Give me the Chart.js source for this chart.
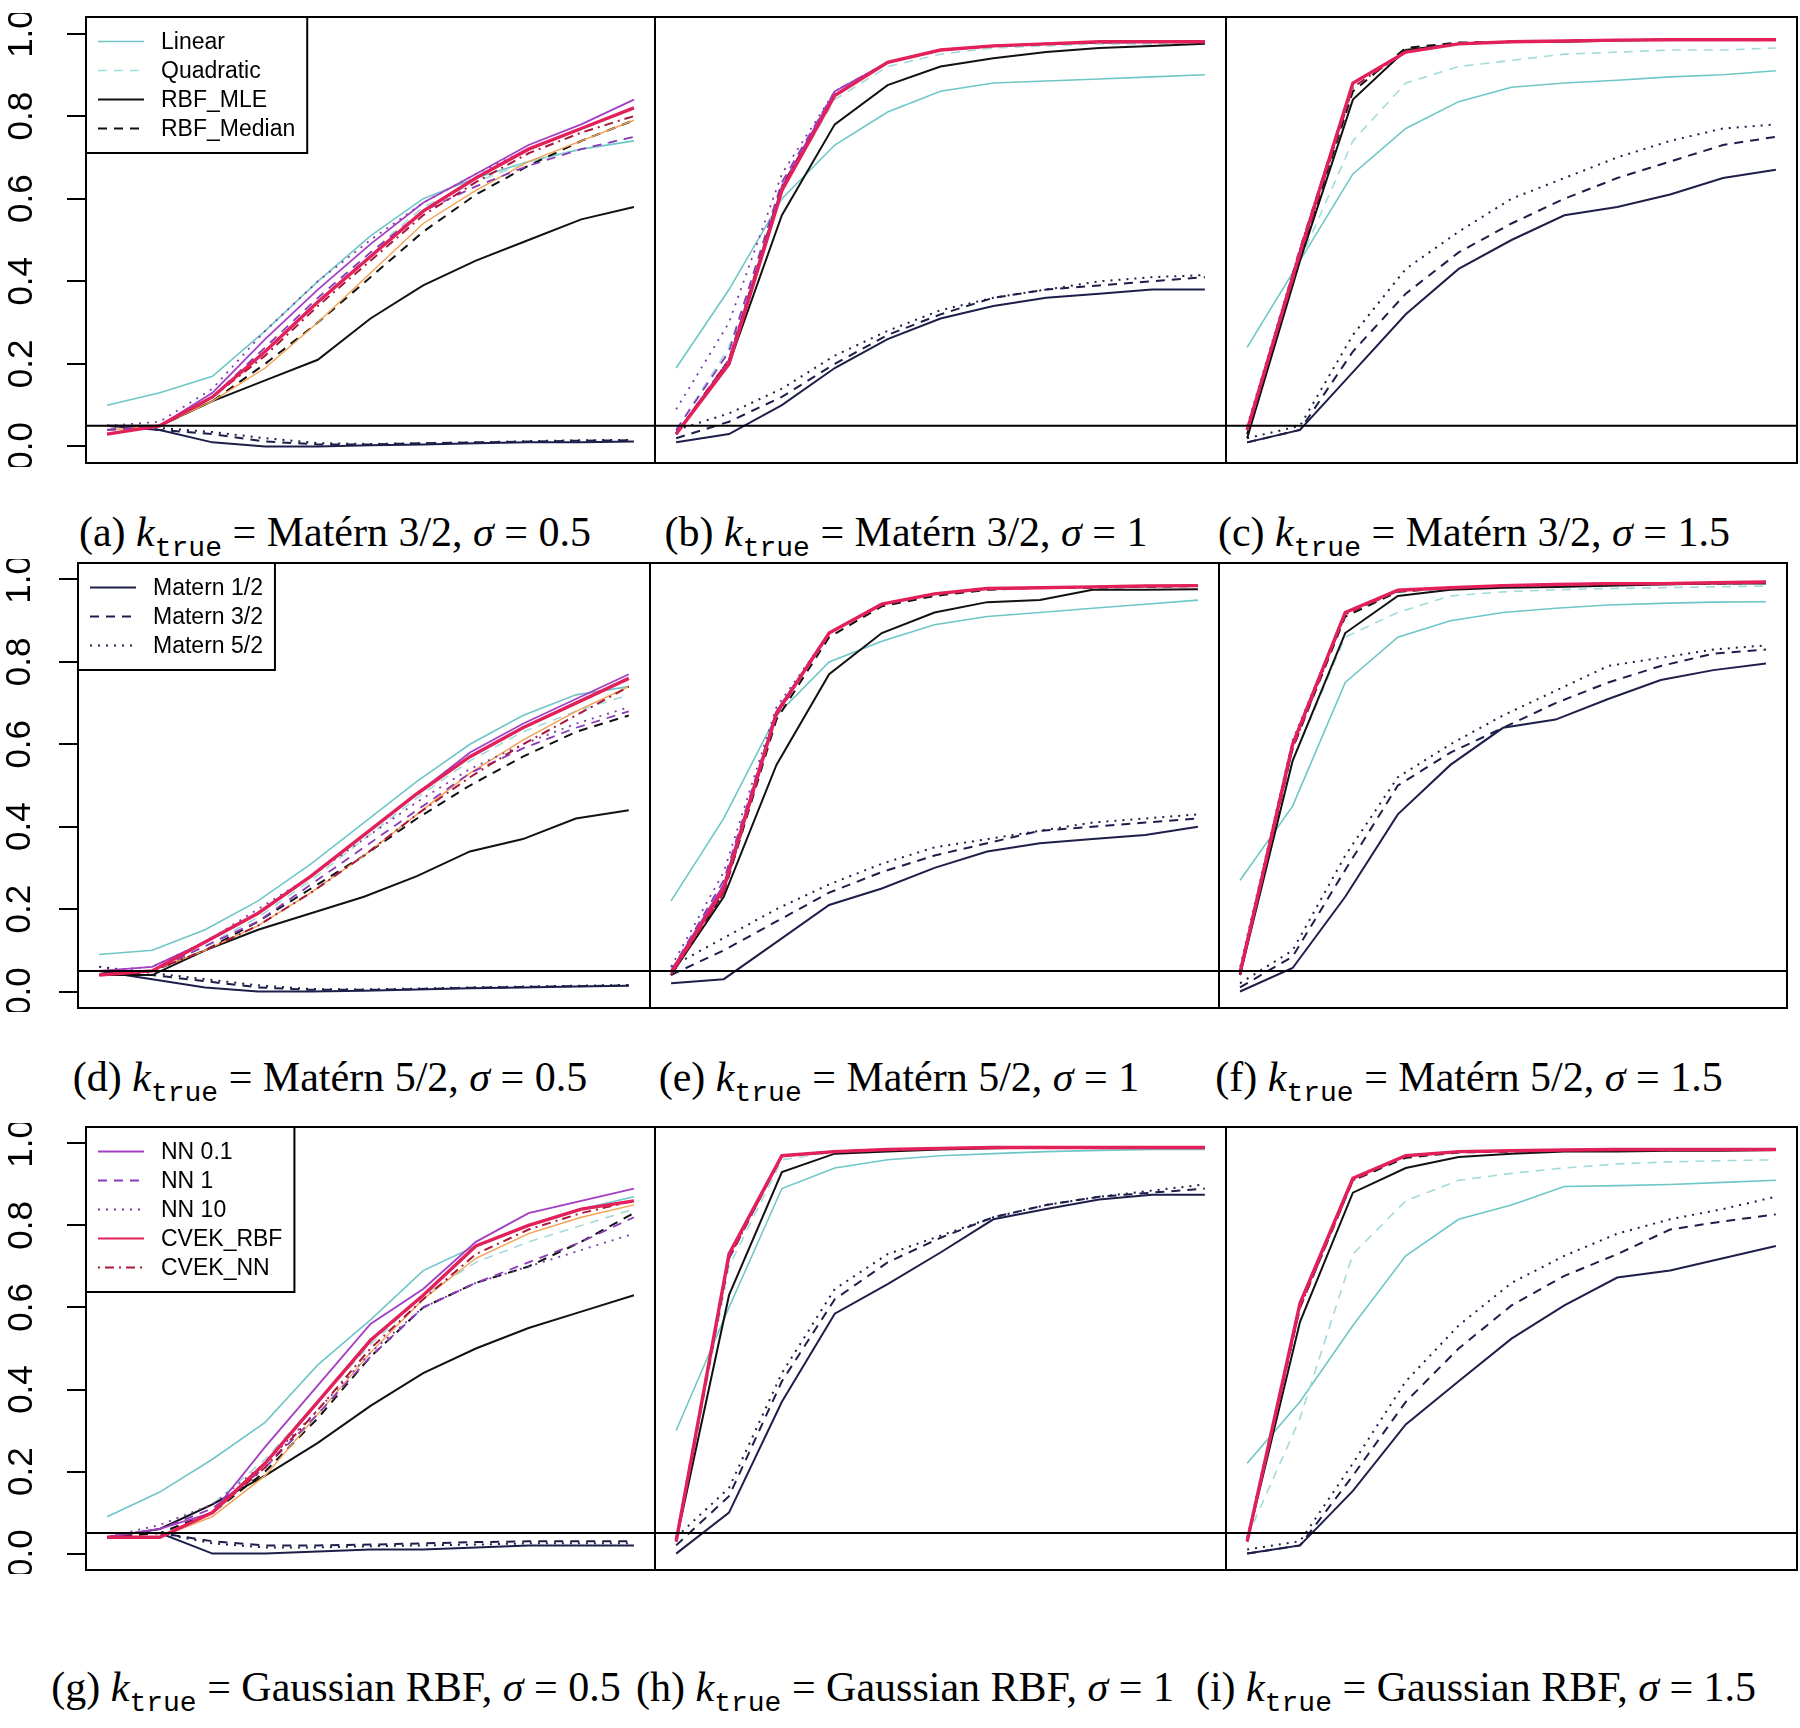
<!DOCTYPE html>
<html>
<head>
<meta charset="utf-8">
<script src="https://cdn.jsdelivr.net/npm/chart.js@4.4.0/dist/chart.umd.min.js"></script>
<style>
  body { margin: 0; background: #fff; width: 1800px; height: 1728px; position: relative; overflow: hidden; }
  canvas { position: absolute; }
  .cap { position: absolute; font-family: "Liberation Serif", serif; font-size: 42px; white-space: nowrap;
         transform: translate(-50%, -50%); color: #000; }
  .cap sub { font-family: "Liberation Mono", monospace; font-size: 28px; font-style: normal; vertical-align: -0.35em; }
</style>
</head>
<body>
<script>
// x positions (11 settings per panel) and y axis ticks
const xValues = [0, 1, 2, 3, 4, 5, 6, 7, 8, 9, 10];
const yTicks = [0.0, 0.2, 0.4, 0.6, 0.8, 1.0];
const alphaLevel = 0.05;

// panel (a) Matern 3/2, sigma 0.5
const a_linear  = [0.10, 0.13, 0.17, 0.28, 0.40, 0.51, 0.60, 0.65, 0.69, 0.72, 0.74];
const a_quad    = [0.05, 0.05, 0.12, 0.23, 0.35, 0.47, 0.58, 0.64, 0.69, 0.72, 0.75];
const a_rbfMle  = [0.05, 0.05, 0.11, 0.16, 0.21, 0.31, 0.39, 0.45, 0.50, 0.55, 0.58];
const a_rbfMed  = [0.04, 0.05, 0.11, 0.20, 0.30, 0.41, 0.52, 0.61, 0.68, 0.74, 0.79];
const a_mat12   = [0.05, 0.04, 0.01, 0.00, 0.00, 0.003, 0.005, 0.008, 0.010, 0.010, 0.012];
const a_mat32   = [0.05, 0.04, 0.03, 0.012, 0.005, 0.005, 0.008, 0.010, 0.012, 0.014, 0.015];
const a_mat52   = [0.05, 0.045, 0.035, 0.02, 0.008, 0.006, 0.008, 0.010, 0.013, 0.015, 0.016];
const a_nn01    = [0.05, 0.05, 0.13, 0.26, 0.38, 0.49, 0.59, 0.66, 0.73, 0.78, 0.84];
const a_nn1     = [0.04, 0.05, 0.12, 0.24, 0.36, 0.47, 0.57, 0.63, 0.68, 0.72, 0.75];
const a_nn10    = [0.05, 0.06, 0.14, 0.28, 0.40, 0.50, 0.59, 0.66, 0.72, 0.77, 0.82];
const a_cvekRbf = [0.03, 0.05, 0.12, 0.23, 0.35, 0.46, 0.57, 0.65, 0.72, 0.77, 0.82];
const a_cvekNn  = [0.03, 0.05, 0.12, 0.22, 0.34, 0.45, 0.56, 0.64, 0.71, 0.76, 0.80];
const a_other   = [0.04, 0.05, 0.11, 0.19, 0.30, 0.42, 0.54, 0.62, 0.69, 0.74, 0.79];

// panel (b) Matern 3/2, sigma 1
const b_linear  = [0.19, 0.38, 0.60, 0.73, 0.81, 0.86, 0.88, 0.885, 0.89, 0.895, 0.90];
const b_quad    = [0.04, 0.24, 0.62, 0.84, 0.92, 0.95, 0.965, 0.97, 0.975, 0.975, 0.975];
const b_rbfMle  = [0.03, 0.20, 0.56, 0.78, 0.875, 0.92, 0.94, 0.955, 0.965, 0.97, 0.975];
const b_rbfMed  = [0.03, 0.21, 0.62, 0.85, 0.93, 0.96, 0.97, 0.975, 0.978, 0.98, 0.98];
const b_mat12   = [0.01, 0.03, 0.10, 0.19, 0.26, 0.31, 0.34, 0.36, 0.37, 0.38, 0.38];
const b_mat32   = [0.02, 0.06, 0.12, 0.20, 0.27, 0.32, 0.36, 0.38, 0.39, 0.40, 0.41];
const b_mat52   = [0.04, 0.08, 0.14, 0.22, 0.28, 0.33, 0.36, 0.38, 0.40, 0.41, 0.415];
const b_nn01    = [0.03, 0.21, 0.63, 0.86, 0.93, 0.96, 0.97, 0.975, 0.98, 0.98, 0.98];
const b_nn1     = [0.04, 0.23, 0.64, 0.86, 0.93, 0.96, 0.97, 0.975, 0.98, 0.98, 0.98];
const b_nn10    = [0.09, 0.30, 0.66, 0.86, 0.93, 0.96, 0.97, 0.975, 0.98, 0.98, 0.98];
const b_cvekRbf = [0.03, 0.20, 0.62, 0.85, 0.93, 0.96, 0.97, 0.975, 0.98, 0.98, 0.98];
const b_cvekNn  = [0.03, 0.21, 0.63, 0.85, 0.93, 0.96, 0.97, 0.975, 0.98, 0.98, 0.98];

// panel (c) Matern 3/2, sigma 1.5
const c_linear  = [0.24, 0.45, 0.66, 0.77, 0.835, 0.87, 0.88, 0.887, 0.895, 0.90, 0.91];
const c_quad    = [0.04, 0.45, 0.74, 0.88, 0.92, 0.935, 0.95, 0.955, 0.96, 0.96, 0.965];
const c_rbfMle  = [0.02, 0.45, 0.84, 0.96, 0.975, 0.98, 0.98, 0.983, 0.985, 0.985, 0.985];
const c_rbfMed  = [0.03, 0.46, 0.86, 0.965, 0.978, 0.98, 0.982, 0.984, 0.985, 0.985, 0.985];
const c_mat12   = [0.01, 0.04, 0.18, 0.32, 0.43, 0.50, 0.56, 0.58, 0.61, 0.65, 0.67];
const c_mat32   = [0.01, 0.04, 0.23, 0.37, 0.47, 0.54, 0.60, 0.65, 0.69, 0.73, 0.75];
const c_mat52   = [0.02, 0.05, 0.27, 0.43, 0.52, 0.60, 0.65, 0.70, 0.74, 0.77, 0.78];
const c_nn01    = [0.04, 0.47, 0.88, 0.955, 0.975, 0.98, 0.982, 0.984, 0.985, 0.985, 0.985];
const c_nn1     = [0.04, 0.48, 0.88, 0.955, 0.975, 0.98, 0.982, 0.984, 0.985, 0.985, 0.985];
const c_nn10    = [0.05, 0.48, 0.88, 0.955, 0.975, 0.98, 0.982, 0.984, 0.985, 0.985, 0.985];
const c_cvekRbf = [0.04, 0.47, 0.88, 0.955, 0.975, 0.98, 0.982, 0.984, 0.985, 0.985, 0.985];
const c_cvekNn  = [0.04, 0.46, 0.87, 0.955, 0.975, 0.98, 0.982, 0.984, 0.985, 0.985, 0.985];

// panel (d) Matern 5/2, sigma 0.5
const d_linear  = [0.09, 0.10, 0.15, 0.22, 0.31, 0.41, 0.51, 0.60, 0.67, 0.72, 0.74];
const d_quad    = [0.04, 0.05, 0.11, 0.18, 0.27, 0.37, 0.47, 0.56, 0.63, 0.68, 0.72];
const d_rbfMle  = [0.04, 0.04, 0.10, 0.15, 0.19, 0.23, 0.28, 0.34, 0.37, 0.42, 0.44];
const d_rbfMed  = [0.04, 0.05, 0.10, 0.17, 0.25, 0.33, 0.42, 0.50, 0.57, 0.63, 0.67];
const d_mat12   = [0.05, 0.03, 0.01, 0.00, 0.00, 0.002, 0.005, 0.008, 0.010, 0.012, 0.014];
const d_mat32   = [0.05, 0.04, 0.025, 0.010, 0.004, 0.004, 0.006, 0.009, 0.011, 0.013, 0.015];
const d_mat52   = [0.06, 0.045, 0.03, 0.015, 0.006, 0.005, 0.007, 0.010, 0.012, 0.014, 0.016];
const d_nn01    = [0.05, 0.06, 0.12, 0.19, 0.28, 0.38, 0.48, 0.58, 0.65, 0.71, 0.77];
const d_nn1     = [0.05, 0.05, 0.11, 0.17, 0.26, 0.35, 0.44, 0.53, 0.59, 0.64, 0.68];
const d_nn10    = [0.05, 0.06, 0.12, 0.20, 0.28, 0.37, 0.46, 0.54, 0.60, 0.65, 0.69];
const d_cvekRbf = [0.04, 0.05, 0.12, 0.19, 0.28, 0.38, 0.48, 0.57, 0.64, 0.70, 0.76];
const d_cvekNn  = [0.04, 0.05, 0.10, 0.16, 0.24, 0.33, 0.43, 0.52, 0.60, 0.67, 0.74];
const d_other   = [0.04, 0.05, 0.10, 0.16, 0.24, 0.33, 0.43, 0.53, 0.61, 0.68, 0.74];

// panel (e) Matern 5/2, sigma 1
const e_linear  = [0.22, 0.42, 0.67, 0.80, 0.85, 0.89, 0.91, 0.92, 0.93, 0.94, 0.95];
const e_quad    = [0.05, 0.26, 0.68, 0.87, 0.94, 0.965, 0.975, 0.98, 0.98, 0.982, 0.984];
const e_rbfMle  = [0.04, 0.23, 0.55, 0.77, 0.87, 0.92, 0.945, 0.95, 0.975, 0.975, 0.976];
const e_rbfMed  = [0.04, 0.24, 0.66, 0.86, 0.935, 0.96, 0.975, 0.98, 0.98, 0.982, 0.984];
const e_mat12   = [0.02, 0.03, 0.12, 0.21, 0.25, 0.30, 0.34, 0.36, 0.37, 0.38, 0.40];
const e_mat32   = [0.04, 0.10, 0.17, 0.24, 0.29, 0.33, 0.36, 0.39, 0.40, 0.41, 0.42];
const e_mat52   = [0.06, 0.13, 0.20, 0.26, 0.31, 0.35, 0.37, 0.39, 0.41, 0.42, 0.43];
const e_nn01    = [0.05, 0.26, 0.68, 0.87, 0.94, 0.965, 0.978, 0.98, 0.982, 0.984, 0.985];
const e_nn1     = [0.05, 0.27, 0.68, 0.87, 0.94, 0.965, 0.978, 0.98, 0.982, 0.984, 0.985];
const e_nn10    = [0.06, 0.29, 0.69, 0.87, 0.94, 0.965, 0.978, 0.98, 0.982, 0.984, 0.985];
const e_cvekRbf = [0.045, 0.25, 0.675, 0.87, 0.94, 0.965, 0.978, 0.98, 0.982, 0.984, 0.985];
const e_cvekNn  = [0.04, 0.24, 0.67, 0.87, 0.94, 0.965, 0.978, 0.98, 0.982, 0.984, 0.985];

// panel (f) Matern 5/2, sigma 1.5
const f_linear  = [0.27, 0.45, 0.75, 0.86, 0.90, 0.92, 0.93, 0.938, 0.942, 0.945, 0.946];
const f_quad    = [0.05, 0.56, 0.86, 0.92, 0.96, 0.97, 0.975, 0.978, 0.98, 0.982, 0.984];
const f_rbfMle  = [0.04, 0.56, 0.87, 0.96, 0.975, 0.98, 0.982, 0.985, 0.988, 0.99, 0.99];
const f_rbfMed  = [0.04, 0.59, 0.91, 0.97, 0.98, 0.984, 0.986, 0.988, 0.99, 0.99, 0.992];
const f_mat12   = [0.00, 0.057, 0.23, 0.43, 0.55, 0.64, 0.66, 0.71, 0.756, 0.78, 0.796];
const f_mat32   = [0.01, 0.085, 0.295, 0.50, 0.58, 0.64, 0.70, 0.75, 0.79, 0.82, 0.83];
const f_mat52   = [0.02, 0.10, 0.33, 0.52, 0.60, 0.67, 0.73, 0.79, 0.81, 0.83, 0.84];
const f_nn01    = [0.05, 0.60, 0.92, 0.974, 0.98, 0.985, 0.988, 0.99, 0.99, 0.992, 0.994];
const f_nn1     = [0.05, 0.60, 0.92, 0.972, 0.98, 0.985, 0.988, 0.99, 0.99, 0.992, 0.994];
const f_nn10    = [0.06, 0.61, 0.92, 0.974, 0.98, 0.985, 0.988, 0.99, 0.99, 0.992, 0.994];
const f_cvekRbf = [0.045, 0.60, 0.92, 0.974, 0.98, 0.985, 0.988, 0.99, 0.99, 0.992, 0.994];
const f_cvekNn  = [0.04, 0.59, 0.915, 0.972, 0.98, 0.985, 0.988, 0.99, 0.99, 0.992, 0.994];

// panel (g) Gaussian RBF, sigma 0.5
const g_linear  = [0.09, 0.15, 0.23, 0.32, 0.46, 0.57, 0.69, 0.75, 0.80, 0.84, 0.87];
const g_quad    = [0.04, 0.06, 0.12, 0.23, 0.37, 0.51, 0.63, 0.71, 0.76, 0.80, 0.84];
const g_rbfMle  = [0.04, 0.06, 0.12, 0.19, 0.27, 0.36, 0.44, 0.50, 0.55, 0.59, 0.63];
const g_rbfMed  = [0.04, 0.05, 0.10, 0.20, 0.33, 0.48, 0.60, 0.66, 0.70, 0.76, 0.83];
const g_mat12   = [0.05, 0.05, 0.00, 0.00, 0.005, 0.010, 0.010, 0.015, 0.020, 0.020, 0.020];
const g_mat32   = [0.05, 0.05, 0.03, 0.02, 0.020, 0.022, 0.025, 0.028, 0.030, 0.030, 0.030];
const g_mat52   = [0.05, 0.05, 0.025, 0.015, 0.015, 0.018, 0.020, 0.022, 0.025, 0.025, 0.025];
const g_nn01    = [0.04, 0.06, 0.10, 0.26, 0.41, 0.56, 0.645, 0.76, 0.83, 0.86, 0.89];
const g_nn1     = [0.04, 0.06, 0.11, 0.21, 0.34, 0.48, 0.60, 0.66, 0.71, 0.76, 0.82];
const g_nn10    = [0.04, 0.07, 0.12, 0.22, 0.35, 0.49, 0.60, 0.66, 0.70, 0.74, 0.78];
const g_cvekRbf = [0.04, 0.04, 0.10, 0.22, 0.37, 0.52, 0.63, 0.75, 0.80, 0.84, 0.86];
const g_cvekNn  = [0.04, 0.04, 0.10, 0.21, 0.35, 0.50, 0.62, 0.73, 0.79, 0.83, 0.86];
const g_other   = [0.04, 0.04, 0.09, 0.19, 0.34, 0.49, 0.62, 0.72, 0.78, 0.82, 0.85];

// panel (h) Gaussian RBF, sigma 1
const h_linear  = [0.30, 0.60, 0.89, 0.94, 0.96, 0.97, 0.975, 0.98, 0.983, 0.985, 0.985];
const h_quad    = [0.03, 0.70, 0.96, 0.98, 0.985, 0.988, 0.99, 0.99, 0.99, 0.99, 0.99];
const h_rbfMle  = [0.03, 0.63, 0.93, 0.975, 0.98, 0.985, 0.988, 0.99, 0.99, 0.99, 0.99];
const h_rbfMed  = [0.03, 0.72, 0.97, 0.98, 0.985, 0.988, 0.99, 0.99, 0.99, 0.99, 0.99];
const h_mat12   = [0.00, 0.10, 0.37, 0.585, 0.657, 0.734, 0.815, 0.84, 0.863, 0.875, 0.875];
const h_mat32   = [0.02, 0.14, 0.42, 0.62, 0.71, 0.77, 0.82, 0.85, 0.87, 0.88, 0.89];
const h_mat52   = [0.04, 0.16, 0.44, 0.645, 0.73, 0.775, 0.82, 0.85, 0.87, 0.885, 0.90];
const h_nn01    = [0.03, 0.73, 0.97, 0.98, 0.985, 0.988, 0.99, 0.99, 0.99, 0.99, 0.99];
const h_nn1     = [0.03, 0.72, 0.97, 0.98, 0.985, 0.988, 0.99, 0.99, 0.99, 0.99, 0.99];
const h_nn10    = [0.04, 0.73, 0.97, 0.98, 0.985, 0.988, 0.99, 0.99, 0.99, 0.99, 0.99];
const h_cvekRbf = [0.03, 0.73, 0.97, 0.98, 0.985, 0.988, 0.99, 0.99, 0.99, 0.99, 0.99];
const h_cvekNn  = [0.03, 0.72, 0.97, 0.98, 0.985, 0.988, 0.99, 0.99, 0.99, 0.99, 0.99];

// panel (i) Gaussian RBF, sigma 1.5
const i_linear  = [0.22, 0.37, 0.556, 0.726, 0.815, 0.85, 0.895, 0.897, 0.90, 0.905, 0.91];
const i_quad    = [0.04, 0.33, 0.73, 0.86, 0.91, 0.927, 0.94, 0.95, 0.955, 0.958, 0.96];
const i_rbfMle  = [0.03, 0.565, 0.88, 0.94, 0.967, 0.975, 0.98, 0.98, 0.982, 0.982, 0.984];
const i_rbfMed  = [0.03, 0.60, 0.91, 0.965, 0.978, 0.98, 0.982, 0.983, 0.984, 0.984, 0.985];
const i_mat12   = [0.00, 0.02, 0.153, 0.315, 0.42, 0.524, 0.605, 0.673, 0.69, 0.72, 0.75];
const i_mat32   = [0.00, 0.02, 0.19, 0.37, 0.50, 0.605, 0.677, 0.73, 0.79, 0.81, 0.827];
const i_mat52   = [0.01, 0.03, 0.22, 0.42, 0.556, 0.66, 0.726, 0.78, 0.815, 0.84, 0.87];
const i_nn01    = [0.03, 0.61, 0.915, 0.97, 0.98, 0.982, 0.984, 0.985, 0.985, 0.985, 0.985];
const i_nn1     = [0.03, 0.60, 0.915, 0.97, 0.98, 0.982, 0.984, 0.985, 0.985, 0.985, 0.985];
const i_nn10    = [0.04, 0.61, 0.915, 0.97, 0.98, 0.982, 0.984, 0.985, 0.985, 0.985, 0.985];
const i_cvekRbf = [0.03, 0.61, 0.915, 0.97, 0.98, 0.982, 0.984, 0.985, 0.985, 0.985, 0.985];
const i_cvekNn  = [0.03, 0.60, 0.91, 0.97, 0.98, 0.982, 0.984, 0.985, 0.985, 0.985, 0.985];

// captions
const capLetters = ['a', 'b', 'c', 'd', 'e', 'f', 'g', 'h', 'i'];
const capKernels = ['Matérn 3/2', 'Matérn 3/2', 'Matérn 3/2', 'Matérn 5/2', 'Matérn 5/2', 'Matérn 5/2',
                    'Gaussian RBF', 'Gaussian RBF', 'Gaussian RBF'];
const capSigmas = ['0.5', '1', '1.5', '0.5', '1', '1.5', '0.5', '1', '1.5'];

// legends (only in the left column)
const legendA = ['linear', 'quad', 'rbfMle', 'rbfMed'];
const legendD = ['mat12', 'mat32', 'mat52'];
const legendG = ['nn01', 'nn1', 'nn10', 'cvekRbf', 'cvekNn'];

// line styles
const styles = {
    linear:  { label: 'Linear',     color: '#6fc6c6', width: 1.6, dash: [] },
    quad:    { label: 'Quadratic',  color: '#a3dada', width: 1.6, dash: [9, 7] },
    rbfMle:  { label: 'RBF_MLE',    color: '#111111', width: 2,   dash: [] },
    rbfMed:  { label: 'RBF_Median', color: '#111111', width: 2,   dash: [9, 7] },
    mat12:   { label: 'Matern 1/2', color: '#1e1e4a', width: 2,   dash: [] },
    mat32:   { label: 'Matern 3/2', color: '#1e1e4a', width: 2,   dash: [9, 7] },
    mat52:   { label: 'Matern 5/2', color: '#1e1e4a', width: 2,   dash: [2, 6] },
    nn01:    { label: 'NN 0.1',     color: '#a23fc4', width: 1.8, dash: [] },
    nn1:     { label: 'NN 1',       color: '#8a3ab8', width: 1.8, dash: [9, 7] },
    nn10:    { label: 'NN 10',      color: '#7a3aa8', width: 1.8, dash: [2, 6] },
    cvekRbf: { label: 'CVEK_RBF',   color: '#e2205a', width: 3.4, dash: [] },
    cvekNn:  { label: 'CVEK_NN',    color: '#a8183a', width: 2,   dash: [2, 5, 9, 5] },
    other:   { label: '',           color: '#f3a050', width: 1.4, dash: [] }
};
// bottom to top
const drawOrder = ['linear', 'quad', 'mat52', 'mat32', 'mat12', 'rbfMle', 'rbfMed', 'other',
                   'nn10', 'nn1', 'nn01', 'cvekNn', 'cvekRbf'];

const panelData = {
    a: { linear: a_linear, quad: a_quad, rbfMle: a_rbfMle, rbfMed: a_rbfMed, mat12: a_mat12, mat32: a_mat32, mat52: a_mat52, nn01: a_nn01, nn1: a_nn1, nn10: a_nn10, cvekRbf: a_cvekRbf, cvekNn: a_cvekNn, other: a_other },
    b: { linear: b_linear, quad: b_quad, rbfMle: b_rbfMle, rbfMed: b_rbfMed, mat12: b_mat12, mat32: b_mat32, mat52: b_mat52, nn01: b_nn01, nn1: b_nn1, nn10: b_nn10, cvekRbf: b_cvekRbf, cvekNn: b_cvekNn },
    c: { linear: c_linear, quad: c_quad, rbfMle: c_rbfMle, rbfMed: c_rbfMed, mat12: c_mat12, mat32: c_mat32, mat52: c_mat52, nn01: c_nn01, nn1: c_nn1, nn10: c_nn10, cvekRbf: c_cvekRbf, cvekNn: c_cvekNn },
    d: { linear: d_linear, quad: d_quad, rbfMle: d_rbfMle, rbfMed: d_rbfMed, mat12: d_mat12, mat32: d_mat32, mat52: d_mat52, nn01: d_nn01, nn1: d_nn1, nn10: d_nn10, cvekRbf: d_cvekRbf, cvekNn: d_cvekNn, other: d_other },
    e: { linear: e_linear, quad: e_quad, rbfMle: e_rbfMle, rbfMed: e_rbfMed, mat12: e_mat12, mat32: e_mat32, mat52: e_mat52, nn01: e_nn01, nn1: e_nn1, nn10: e_nn10, cvekRbf: e_cvekRbf, cvekNn: e_cvekNn },
    f: { linear: f_linear, quad: f_quad, rbfMle: f_rbfMle, rbfMed: f_rbfMed, mat12: f_mat12, mat32: f_mat32, mat52: f_mat52, nn01: f_nn01, nn1: f_nn1, nn10: f_nn10, cvekRbf: f_cvekRbf, cvekNn: f_cvekNn },
    g: { linear: g_linear, quad: g_quad, rbfMle: g_rbfMle, rbfMed: g_rbfMed, mat12: g_mat12, mat32: g_mat32, mat52: g_mat52, nn01: g_nn01, nn1: g_nn1, nn10: g_nn10, cvekRbf: g_cvekRbf, cvekNn: g_cvekNn, other: g_other },
    h: { linear: h_linear, quad: h_quad, rbfMle: h_rbfMle, rbfMed: h_rbfMed, mat12: h_mat12, mat32: h_mat32, mat52: h_mat52, nn01: h_nn01, nn1: h_nn1, nn10: h_nn10, cvekRbf: h_cvekRbf, cvekNn: h_cvekNn },
    i: { linear: i_linear, quad: i_quad, rbfMle: i_rbfMle, rbfMed: i_rbfMed, mat12: i_mat12, mat32: i_mat32, mat52: i_mat52, nn01: i_nn01, nn1: i_nn1, nn10: i_nn10, cvekRbf: i_cvekRbf, cvekNn: i_cvekNn }
};

// layout: box edges of each row, caption centres, y label centre
const rows = [
    { top: 17,   bottom: 463,  xs: [86, 655, 1226, 1797], capY: 536,  capX: [335, 906, 1474], labelX: 22 },
    { top: 563,  bottom: 1008, xs: [78, 650, 1219, 1787], capY: 1081, capX: [330, 899, 1469], labelX: 20 },
    { top: 1127, bottom: 1570, xs: [86, 655, 1226, 1797], capY: 1691, capX: [336, 905, 1476], labelX: 22 }
];
const legends = { a: legendA, d: legendD, g: legendG };
const PAD = 4;

// box, 0.05 line, legend, rotated y labels
const framePlugin = {
    id: 'frame',
    afterDraw(chart, args, opts) {
        const { ctx, chartArea: ca, scales } = chart;
        const y = scales.y;
        ctx.save();
        // level line
        const yy = y.getPixelForValue(alphaLevel);
        ctx.strokeStyle = '#000';
        ctx.lineWidth = 2;
        ctx.beginPath();
        ctx.moveTo(ca.left, yy);
        ctx.lineTo(ca.right, yy);
        ctx.stroke();

        // legend
        if (opts.items) {
            ctx.font = '23px "Liberation Sans", Arial, sans-serif';
            const tw = Math.max(...opts.items.map(k => ctx.measureText(styles[k].label).width));
            const rowH = 29, padY = 10, textX = 75;
            const w = textX + tw + 12, h = rowH * opts.items.length + padY * 2;
            ctx.fillStyle = '#fff';
            ctx.fillRect(ca.left, ca.top, w, h);
            ctx.strokeStyle = '#000';
            ctx.lineWidth = 2;
            ctx.strokeRect(ca.left, ca.top, w, h);
            ctx.textBaseline = 'middle';
            opts.items.forEach((k, i) => {
                const s = styles[k];
                const cy = ca.top + padY + rowH * (i + 0.5);
                ctx.strokeStyle = s.color;
                ctx.lineWidth = Math.min(s.width, 2);
                ctx.setLineDash(s.dash);
                ctx.beginPath();
                ctx.moveTo(ca.left + 12, cy);
                ctx.lineTo(ca.left + 58, cy);
                ctx.stroke();
                ctx.setLineDash([]);
                ctx.fillStyle = '#000';
                ctx.fillText(s.label, ca.left + textX, cy + 1);
            });
        }

        // plot box
        ctx.strokeStyle = '#000';
        ctx.lineWidth = 2;
        ctx.strokeRect(ca.left, ca.top, ca.right - ca.left, ca.bottom - ca.top);

        // y tick labels, R style (parallel to the axis)
        if (opts.labelX) {
            ctx.fillStyle = '#000';
            ctx.font = '35px "Liberation Sans", Arial, sans-serif';
            ctx.textAlign = 'center';
            ctx.textBaseline = 'middle';
            yTicks.forEach(v => {
                ctx.save();
                ctx.translate(opts.labelX, y.getPixelForValue(v));
                ctx.rotate(-Math.PI / 2);
                ctx.fillText(v.toFixed(1), 0, 0);
                ctx.restore();
            });
        }
        ctx.restore();
    }
};

let k = 0;
rows.forEach((row, r) => {
    for (let c = 0; c < 3; c++) {
        const id = capLetters[k];
        const left = row.xs[c], right = row.xs[c + 1];
        const first = c === 0;
        const cv = document.createElement('canvas');
        const cLeft = first ? 0 : left - PAD;
        const cW = right + PAD - cLeft;
        const cH = row.bottom - row.top + PAD * 2;
        cv.width = cW;
        cv.height = cH;
        cv.style.left = cLeft + 'px';
        cv.style.top = (row.top - PAD) + 'px';
        document.body.appendChild(cv);

        const series = panelData[id];
        const datasets = [];
        drawOrder.forEach((key, idx) => {
            if (!series[key]) return;
            const s = styles[key];
            datasets.push({
                label: s.label,
                data: xValues.map((x, j) => ({ x: x, y: series[key][j] })),
                borderColor: s.color,
                borderWidth: s.width,
                borderDash: s.dash,
                pointRadius: 0,
                fill: false,
                tension: 0,
                order: drawOrder.length - idx
            });
        });

        const yScale = {
            type: 'linear', min: -0.04, max: 1.04, display: first,
            afterBuildTicks: s => { s.ticks = yTicks.map(v => ({ value: v })); },
            ticks: { display: false },
            border: { display: false },
            grid: { drawOnChartArea: false, drawTicks: true, tickLength: 19, color: '#000', lineWidth: 2 }
        };
        if (first) {
            yScale.afterFit = s => { s.width = left; };
        }

        new Chart(cv.getContext('2d'), {
            type: 'line',
            data: { datasets: datasets },
            options: {
                responsive: false,
                animation: false,
                events: [],
                layout: { padding: { left: first ? 0 : PAD, right: PAD, top: PAD, bottom: PAD } },
                plugins: {
                    legend: { display: false },
                    tooltip: { enabled: false },
                    frame: { items: legends[id], labelX: first ? row.labelX : 0 }
                },
                scales: {
                    x: { type: 'linear', min: -0.4, max: 10.4, display: false },
                    y: yScale
                }
            },
            plugins: [framePlugin]
        });

        // caption
        const cap = document.createElement('div');
        cap.className = 'cap';
        cap.style.left = row.capX[c] + 'px';
        cap.style.top = row.capY + 'px';
        cap.innerHTML = '(' + id + ') <i>k</i><sub>true</sub> = ' + capKernels[k] + ', <i>σ</i> = ' + capSigmas[k];
        document.body.appendChild(cap);
        k++;
    }
});
</script>
</body>
</html>
